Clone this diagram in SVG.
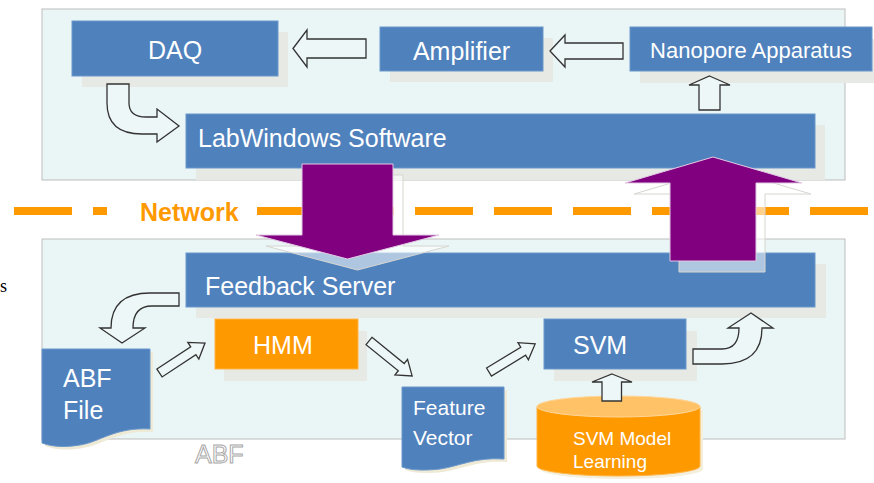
<svg xmlns="http://www.w3.org/2000/svg" width="874" height="483" viewBox="0 0 874 483">
  <style>
    .panel { fill: #EAF5F5; stroke: #BDBDBD; stroke-width: 1; }
    .box { fill: #4F81BD; stroke: #6B97CB; stroke-width: 1; }
    .obox { fill: #FF9900; stroke: #FFB347; stroke-width: 1; }
    .shadow { fill: #E7EAE4; }
    .lbl { font-family: "Liberation Sans", Arial, sans-serif; fill: #FFFFFF; }
    .hollow { fill: #EEF7F7; stroke: #333333; stroke-width: 1.3; stroke-linejoin: miter; }
    .dash { fill: #FF9900; }
    .big { fill: #800080; stroke: #E3C9E3; stroke-width: 1; }
    .bigshadow { fill: #FFFFFF; fill-opacity: 0.55; stroke: #D6D6D0; stroke-width: 1; }
    .docshadow { fill: #EEEAD5; }
  </style>

  <rect width="874" height="483" fill="#FFFFFF"/>

  <!-- caption letter at the far left -->
  <text x="0" y="292" font-family="'Liberation Serif', 'Times New Roman', serif" font-size="18" fill="#000000">s</text>

  <!-- panels -->
  <g id="panel-top"><rect class="panel" x="42" y="9" width="803" height="171"/></g>
  <g id="panel-bottom"><rect class="panel" x="42" y="239" width="803" height="200"/></g>

  <!-- network line -->
  <g id="network">
    <rect class="dash" x="14" y="207" width="58" height="8"/>
    <rect class="dash" x="93" y="207" width="14" height="8"/>
    <rect class="dash" x="257" y="207" width="58" height="8"/>
    <rect class="dash" x="336" y="207" width="58" height="8"/>
    <rect class="dash" x="415" y="207" width="58" height="8"/>
    <rect class="dash" x="494" y="207" width="58" height="8"/>
    <rect class="dash" x="573" y="207" width="58" height="8"/>
    <rect class="dash" x="652" y="207" width="58" height="8"/>
    <rect class="dash" x="731" y="207" width="58" height="8"/>
    <rect class="dash" x="810" y="207" width="58" height="8"/>
    <text x="140" y="221" font-family="'Liberation Sans', Arial, sans-serif" font-size="25" font-weight="bold" fill="#FF9900">Network</text>
  </g>

  <!-- nodes -->
  <g id="daq">
    <rect class="shadow" x="82" y="32" width="206" height="55"/>
    <rect class="box" x="72" y="21" width="206" height="55"/>
    <text class="lbl" x="175" y="59" font-size="25" text-anchor="middle">DAQ</text>
  </g>
  <g id="amplifier">
    <rect class="shadow" x="390" y="38" width="163" height="44"/>
    <rect class="box" x="380" y="27" width="163" height="44"/>
    <text class="lbl" x="461.5" y="60" font-size="25" text-anchor="middle">Amplifier</text>
  </g>
  <g id="nanopore">
    <rect class="shadow" x="640" y="39" width="242" height="44"/>
    <rect class="box" x="630" y="27" width="242" height="44"/>
    <text class="lbl" x="751" y="58" font-size="22" text-anchor="middle">Nanopore Apparatus</text>
  </g>
  <g id="labwindows">
    <rect class="shadow" x="196" y="125" width="629" height="55"/>
    <rect class="box" x="186" y="114" width="629" height="54"/>
    <text class="lbl" x="198" y="147" font-size="25">LabWindows Software</text>
  </g>
  <g id="feedback-server">
    <rect class="shadow" x="196" y="264" width="630" height="54"/>
    <rect class="box" x="186" y="253" width="629" height="54"/>
    <text class="lbl" x="205" y="295" font-size="25">Feedback Server</text>
  </g>
  <g id="hmm">
    <rect class="shadow" x="224" y="331" width="143" height="50"/>
    <rect class="obox" x="215" y="319" width="143" height="50"/>
    <text class="lbl" x="253" y="354" font-size="25">HMM</text>
  </g>
  <g id="svm">
    <rect class="shadow" x="554" y="331" width="143" height="50"/>
    <rect class="box" x="544" y="319" width="142" height="50"/>
    <text class="lbl" x="573" y="354" font-size="25">SVM</text>
  </g>
  <g id="abf-file">
    <path class="docshadow" d="M45,352 H153 V432 C118,430 103,445 83,448 C65,451 53,449 45,446 Z"/>
    <path class="box" d="M42,349 H150 V429 C115,427 100,442 80,445 C62,448 50,446 42,443 Z"/>
    <text class="lbl" x="63" y="387" font-size="25">ABF</text>
    <text class="lbl" x="63" y="419" font-size="25">File</text>
  </g>
  <g id="feature-vector">
    <path class="docshadow" d="M405,390 H507 V462 C478,460 463,469 443,472 C425,474 413,473 405,470 Z"/>
    <path class="box" d="M402,387 H504 V459 C475,457 460,466 440,469 C422,471 410,470 402,467 Z"/>
    <text class="lbl" x="413" y="415" font-size="21">Feature</text>
    <text class="lbl" x="413" y="445" font-size="21">Vector</text>
  </g>
  <g id="svm-model">
    <path fill="#F3EFDC" d="M540,410 V469 A81.5,10 0 0 0 703,469 V410 Z"/>
    <path fill="#FF9900" stroke="#FFB347" stroke-width="1" d="M537,406.5 V466 A81.5,10 0 0 0 700,466 V406.5 Z"/>
    <ellipse cx="618.5" cy="406.5" rx="81.5" ry="10.5" fill="#FFC266" stroke="#FFD699" stroke-width="1"/>
    <text class="lbl" x="573" y="445" font-size="19">SVM Model</text>
    <text class="lbl" x="573" y="468" font-size="19">Learning</text>
  </g>
  <g id="abf-outline">
    <text x="195" y="463" font-family="'Liberation Sans', Arial, sans-serif" font-size="25" fill="#FFFFFF" stroke="#A8A8A8" stroke-width="1">ABF</text>
  </g>

  <!-- connectors -->
  <g id="connectors">
    <!-- Amplifier to DAQ -->
    <polygon class="hollow" points="293,48.5 307,30 307,39 366,39 366,58 307,58 307,67"/>
    <!-- Nanopore Apparatus to Amplifier -->
    <polygon class="hollow" points="550,51 565,35 565,43 623,43 623,59 565,59 565,67"/>
    <!-- LabWindows to Nanopore Apparatus -->
    <polygon class="hollow" points="709.5,76 730,85 720,85 720,110 699,110 699,85 689,85"/>
    <!-- DAQ to LabWindows -->
    <path class="hollow" d="M107,84 L129,84 L129,103 Q129,117 146,117 L157,117 L157,109 L179,126 L157,142 L157,134 L142,134 Q107,134 107,103 Z"/>
    <!-- Feedback Server to ABF File -->
    <path class="hollow" d="M179,293 L150,293 Q111,293 111,328 L100,328 L122,343 L145,328 L133,328 Q133,306 152,306 L179,306 Z"/>
    <!-- ABF File to HMM -->
    <polygon class="hollow" transform="translate(159.5,373) rotate(-33.4)" points="0,-4.7 40.5,-4.7 40.5,-10 54.5,0 40.5,10 40.5,4.7 0,4.7"/>
    <!-- HMM to Feature Vector -->
    <polygon class="hollow" transform="translate(369,341) rotate(39)" points="0,-4.7 41.5,-4.7 41.5,-10 55.5,0 41.5,10 41.5,4.7 0,4.7"/>
    <!-- Feature Vector to SVM -->
    <polygon class="hollow" transform="translate(489,372) rotate(-31.3)" points="0,-4.7 40,-4.7 40,-10 54,0 40,10 40,4.7 0,4.7"/>
    <!-- SVM Model Learning to SVM -->
    <polygon class="hollow" points="612,374 632,382 621.5,382 621.5,401 602,401 602,382 592,382"/>
    <!-- SVM to Feedback Server -->
    <path class="hollow" d="M693,349 L722,349 Q739,349 739,328 L728,328 L751,313 L773,328 L762,328 Q762,364 722,364 L693,364 Z"/>

    <!-- LabWindows to Feedback Server across the network -->
    <polygon class="bigshadow" transform="translate(10,11)" points="302,164 393,164 393,235 439,235 347.5,259 256,235 302,235"/>
    <polygon class="big" points="302,164 393,164 393,235 439,235 347.5,259 256,235 302,235"/>
    <!-- Feedback Server to LabWindows across the network -->
    <polygon class="bigshadow" transform="translate(9,11)" points="670,261 756,261 756,183 802,183 713,157 625,183 670,183"/>
    <polygon class="big" points="670,261 756,261 756,183 802,183 713,157 625,183 670,183"/>
  </g>
</svg>
